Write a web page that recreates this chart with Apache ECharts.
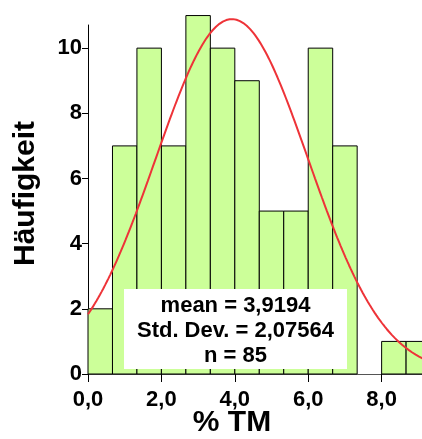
<!DOCTYPE html>
<html>
<head>
<meta charset="utf-8">
<script src="https://cdn.jsdelivr.net/npm/echarts@6/dist/echarts.min.js"></script>
<style>
  html, body { margin: 0; padding: 0; background: #fff; }
  #chart { width: 422px; height: 439px; }
</style>
</head>
<body>
<div id="chart"></div>
<script>
// Histogram bins (lower edge, upper edge) and counts
const binStarts = [0, 0.6667, 1.3333, 2, 2.6667, 3.3333, 4, 4.6667, 5.3333, 6, 6.6667, 7.3333, 8, 8.6667];
const binEnds   = [0.6667, 1.3333, 2, 2.6667, 3.3333, 4, 4.6667, 5.3333, 6, 6.6667, 7.3333, 8, 8.6667, 9.3333];
const counts    = [2, 7, 10, 7, 11, 10, 9, 5, 5, 10, 7, 0, 1, 1];

// Summary statistics shown in the box and used for the normal curve
const mean = 3.9194;
const stdDev = 2.07564;
const n = 85;
const binWidth = 2 / 3;

// Axis ticks
const xTicks = [0, 2, 4, 6, 8];
const yTicks = [0, 2, 4, 6, 8, 10];

const fmt = (v, d) => v.toFixed(d).replace('.', ',');

// Normal density scaled to counts per bin
const curve = [];
for (let i = 0; i <= 200; i++) {
  const x = 9.3 * i / 200;
  const z = (x - mean) / stdDev;
  curve.push([x, n * binWidth / (stdDev * Math.sqrt(2 * Math.PI)) * Math.exp(-0.5 * z * z)]);
}

const bars = binStarts.map((s, i) => [s, binEnds[i], counts[i]]);

const chart = echarts.init(document.getElementById('chart'));
const labelFont = { fontFamily: 'Liberation Sans, Arial, sans-serif', fontWeight: 'bold', fontSize: 22, color: '#000' };

chart.setOption({
  animation: false,
  grid: { left: 88, right: 0, top: 25, bottom: 65 },
  xAxis: {
    type: 'value', min: 0, max: 9.1,
    axisLine: { lineStyle: { color: '#555', width: 1 } },
    axisTick: { customValues: xTicks, length: 8, lineStyle: { color: '#000' } },
    axisLabel: Object.assign({ customValues: xTicks, margin: 15, formatter: v => fmt(v, 1) }, labelFont),
    splitLine: { show: false }
  },
  yAxis: {
    type: 'value', min: 0, max: 10.71,
    axisLine: { show: true, lineStyle: { color: '#000', width: 1 } },
    axisTick: { show: true, customValues: yTicks, length: 6, lineStyle: { color: '#000' } },
    axisLabel: Object.assign({ customValues: yTicks, margin: 6, padding: [6, 0, 0, 0] }, labelFont),
    splitLine: { show: false }
  },
  series: [
    {
      type: 'custom',
      clip: false,
      data: bars,
      encode: { x: [0, 1], y: 2 },
      renderItem: (params, api) => {
        const p0 = api.coord([api.value(0), api.value(2)]);
        const p1 = api.coord([api.value(1), 0]);
        return {
          type: 'rect',
          shape: { x: p0[0], y: p0[1], width: p1[0] - p0[0], height: p1[1] - p0[1] },
          style: { fill: api.value(2) > 0 ? '#ccff99' : 'none', stroke: api.value(2) > 0 ? '#000' : 'none', lineWidth: 1 }
        };
      },
      z: 2
    },
    {
      type: 'line',
      data: curve,
      showSymbol: false,
      clip: false,
      lineStyle: { color: '#ee3338', width: 2 },
      z: 4
    }
  ],
  graphic: [
    {
      type: 'rect', z: 10,
      shape: { x: 124, y: 289, width: 223, height: 80 },
      style: { fill: '#fff' }
    },
    {
      type: 'text', z: 11, x: 235.5, y: 293,
      style: {
        text: 'mean = ' + fmt(mean, 4) + '\nStd. Dev. = ' + fmt(stdDev, 5) + '\nn = ' + n,
        font: 'bold 22px "Liberation Sans", Arial, sans-serif',
        lineHeight: 25, align: 'center', verticalAlign: 'top', fill: '#000'
      }
    },
    {
      type: 'text', z: 11, x: 232, y: 438,
      style: {
        text: '% TM', font: 'bold 30px "Liberation Sans", Arial, sans-serif',
        align: 'center', verticalAlign: 'bottom', fill: '#000'
      }
    },
    {
      type: 'text', z: 11, x: 11, y: 193.5, rotation: Math.PI / 2,
      style: {
        text: 'Häufigkeit', font: 'bold 30px "Liberation Sans", Arial, sans-serif',
        align: 'center', verticalAlign: 'top', fill: '#000'
      }
    }
  ]
});
</script>
</body>
</html>
